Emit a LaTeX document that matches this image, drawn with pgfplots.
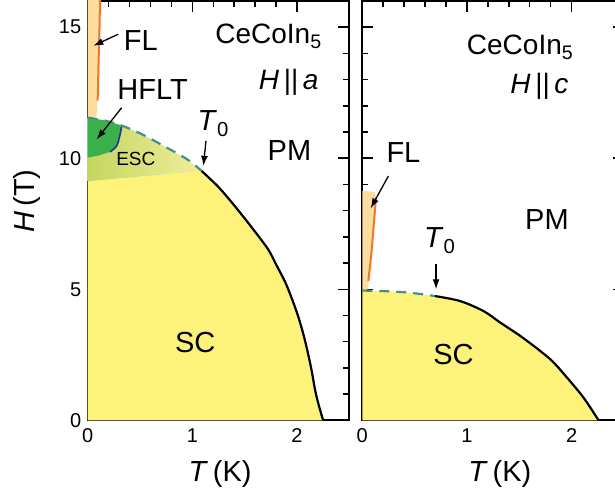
\documentclass[border=0pt]{standalone}
\usepackage{fontspec}
\setmainfont{Liberation Sans}
\usepackage{pgfplots}
\pgfplotsset{compat=1.18}
\usetikzlibrary{arrows.meta}

\definecolor{scyel}{RGB}{253,242,122}
\definecolor{flbeige}{RGB}{251,221,160}
\definecolor{florange}{RGB}{240,118,40}
\definecolor{hfgreen}{RGB}{58,176,74}
\definecolor{hfblue}{RGB}{40,50,150}
\definecolor{dashteal}{RGB}{70,145,135}
\definecolor{escA}{RGB}{196,214,96}
\definecolor{escB}{RGB}{240,238,155}

\newcommand{\bigf}{\fontsize{29}{34}\selectfont}
\newcommand{\medf}{\fontsize{28}{33}\selectfont}
\newcommand{\smf}{\fontsize{19}{23}\selectfont}

\pgfplotsset{
  panel/.style={
  scale only axis, width=261.6pt, height=419.3pt,
  xmin=0, xmax=2.5, ymin=0, ymax=16,
  xtick={0,1,2}, minor x tick num=4,
  ytick={0,5,10,15}, minor y tick num=4,
  tick align=inside,
  major tick length=11pt, minor tick length=6pt,
  every tick/.style={black, line width=1.5pt},
  axis line style={black, line width=2pt},
  tick label style={font=\fontsize{20}{24}\selectfont},
  yticklabel style={xshift=-3pt},
  xticklabel style={yshift=-5pt},
  /pgf/number format/assume math mode=true,
}}

\begin{document}
\begin{tikzpicture}
\useasboundingbox (-87.7pt,-79.7pt) rectangle (527.3pt,420.3pt);
% ---------------- left panel: H || a ----------------
\begin{axis}[panel, at={(0pt,0pt)}, anchor=south west,
  xlabel={\textit{T}\,(K)}, ylabel={\textit{H}\,(T)},
  xlabel style={font=\bigf, at={(axis description cs:0.506,-0.128)}, anchor=center},
  ylabel style={font=\bigf, at={(axis description cs:-0.232,0.523)}, anchor=center},
]
% SC region
\addplot[draw=none, fill=scyel] coordinates {
 (0,0) (0,9.12) (1.09,9.51) (1.25,8.90) (1.39,8.25) (1.55,7.45) (1.72,6.55)
 (1.80,5.95) (1.89,5.25) (1.96,4.55) (2.015,3.92) (2.06,3.30) (2.10,2.65)
 (2.14,1.90) (2.175,1.12) (2.21,0.55) (2.25,0)} -- cycle;
% ESC region
\addplot[draw=none, left color=escA, right color=escB] coordinates {
 (0,9.12) (1.09,9.51) (0.95,9.96) (0.69,10.55) (0.50,10.95) (0.31,11.27) (0.15,11.45) (0,11.55)} -- cycle;
% FL region
\addplot[draw=none, fill=flbeige] coordinates {
 (0,11.55) (0.085,11.60) (0.092,12.2) (0.10,13.0) (0.106,14.0) (0.113,15.0) (0.118,16.2) (0,16.2)} -- cycle;
% HFLT region
\addplot[draw=none, fill=hfgreen] coordinates {
 (0,11.55) (0.15,11.45) (0.325,11.25) (0.31,10.92) (0.277,10.47) (0.213,10.24) (0.10,10.10) (0,10.02)} -- cycle;
% FL line
\addplot[florange, line width=2pt, smooth] coordinates {
 (0.092,12.2) (0.097,12.4) (0.10,13.0) (0.106,14.0) (0.113,15.0) (0.118,16.2)};
% HFLT boundary
\addplot[hfblue, line width=1.6pt, smooth] coordinates {
 (0.325,11.25) (0.31,10.92) (0.277,10.47) (0.213,10.24)};
% dashed crossover
\addplot[dashteal, line width=2.2pt, dash pattern=on 10pt off 7pt, smooth] coordinates {
 (0,11.55) (0.15,11.45) (0.31,11.27) (0.50,10.95) (0.69,10.55) (0.95,9.96) (1.09,9.51)};
% Hc2 line
\addplot[black, line width=2.2pt, smooth] coordinates {
 (1.09,9.51) (1.25,8.90) (1.39,8.25) (1.55,7.45) (1.72,6.55)
 (1.80,5.95) (1.89,5.25) (1.96,4.55) (2.015,3.92) (2.06,3.30) (2.10,2.65)
 (2.14,1.90) (2.175,1.12) (2.21,0.55) (2.25,0)};
% annotations
\node[font=\bigf, anchor=base] at (axis cs:0.508,14.1) {FL};
\draw[-{Latex[length=10pt,width=7pt]}, line width=1.3pt] (axis cs:0.29,14.73) -- (axis cs:0.054,14.29);
\node[font=\medf, anchor=base east] at (axis cs:2.27,14.37) {CeCoIn\textsubscript{5}};
\node[font=\medf, anchor=base east] at (axis cs:2.24,12.63) {\textit{H}\,||\,\textit{a}};
\node[font=\bigf, anchor=base] at (axis cs:0.62,12.25) {HFLT};
\draw[-{Latex[length=10pt,width=7pt]}, line width=1.3pt] (axis cs:0.325,11.93) -- (axis cs:0.086,10.72);
\node[font=\smf, anchor=base] at (axis cs:0.46,9.71) {ESC};
\node[font=\bigf, anchor=base] at (axis cs:1.20,11.04) {\textit{T}\textsubscript{0}};
\draw[-{Latex[length=10pt,width=7pt]}, line width=1.3pt] (axis cs:1.13,10.66) -- (axis cs:1.106,9.71);
\node[font=\bigf, anchor=base] at (axis cs:1.928,9.90) {PM};
\node[font=\bigf, anchor=base] at (axis cs:1.027,2.58) {SC};
\end{axis}

% ---------------- right panel: H || c ----------------
\begin{axis}[panel, at={(274.6pt,0pt)}, anchor=south west,
  yticklabels={},
  xlabel={\textit{T}\,(K)},
  xlabel style={font=\bigf, at={(axis description cs:0.526,-0.128)}, anchor=center},
]
\addplot[draw=none, fill=scyel] coordinates {
 (0,0) (0,4.95) (0.20,4.93) (0.45,4.87) (0.696,4.74) (0.935,4.55) (1.158,4.17)
 (1.318,3.73) (1.541,3.13) (1.796,2.33) (1.956,1.63) (2.115,0.86) (2.258,0)} -- cycle;
\addplot[draw=none, fill=flbeige] coordinates {
 (0,4.95) (0.055,5.0) (0.075,6.0) (0.09,6.5) (0.11,7.5) (0.131,8.5) (0.12,8.72) (0,8.75)} -- cycle;
\addplot[florange, line width=2pt, smooth] coordinates {
 (0.058,5.32) (0.09,6.5) (0.11,7.5) (0.131,8.5)};
\addplot[dashteal, line width=2.2pt, dash pattern=on 10pt off 7pt, smooth] coordinates {
 (0,4.95) (0.20,4.93) (0.45,4.87) (0.696,4.74)};
\addplot[black, line width=2.2pt, smooth] coordinates {
 (0.696,4.74) (0.935,4.55) (1.158,4.17) (1.318,3.73) (1.541,3.13)
 (1.796,2.33) (1.956,1.63) (2.115,0.86) (2.258,0)};
\node[font=\bigf, anchor=base] at (axis cs:0.393,9.83) {FL};
\draw[-{Latex[length=10pt,width=7pt]}, line width=1.3pt] (axis cs:0.249,9.32) -- (axis cs:0.08,8.09);
\node[font=\medf, anchor=base east] at (axis cs:2.05,13.94) {CeCoIn\textsubscript{5}};
\node[font=\medf, anchor=base east] at (axis cs:2.004,12.47) {\textit{H}\,||\,\textit{c}};
\node[font=\bigf, anchor=base] at (axis cs:1.765,7.29) {PM};
\node[font=\bigf, anchor=base] at (axis cs:0.74,6.58) {\textit{T}\textsubscript{0}};
\draw[-{Latex[length=10pt,width=7pt]}, line width=1.3pt] (axis cs:0.705,5.95) -- (axis cs:0.705,5.0);
\node[font=\bigf, anchor=base] at (axis cs:0.871,2.14) {SC};
\end{axis}
\end{tikzpicture}
\end{document}
